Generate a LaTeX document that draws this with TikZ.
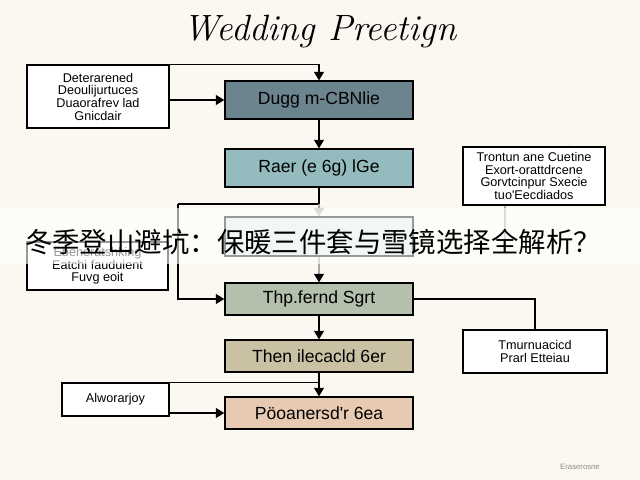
\documentclass[tikz,border=0pt]{standalone}
\usepackage{fontspec}
\usepackage{tikz}
\usetikzlibrary{positioning,calc}
\usetikzlibrary{arrows.meta}
\newfontfamily\boxfont{Liberation Sans}
\newfontfamily\cjkfont{Noto Sans CJK SC}
\definecolor{PaperCream}{RGB}{250,248,240}
\definecolor{SlateBox}{RGB}{108,132,142}
\definecolor{TealBox}{RGB}{148,188,190}
\definecolor{MistBox}{RGB}{222,234,236}
\definecolor{SageBox}{RGB}{180,192,172}
\definecolor{KhakiBox}{RGB}{202,193,165}
\definecolor{PeachBox}{RGB}{232,202,178}
\tikzset{
  stage/.style={draw=black,line width=0.9pt,minimum width=4.7cm,minimum height=0.8cm,
    inner sep=2pt,font=\boxfont\fontsize{12.5}{14}\selectfont},
  note/.style={draw=black,fill=white,line width=0.9pt,align=center,inner sep=2pt,
    font=\boxfont\fontsize{9}{9}\selectfont},
  link/.style={draw=black,line width=0.9pt},
  arr/.style={link,-{Triangle[length=6pt,width=7pt]}},
  faint/.style={draw=black!35,line width=0.9pt},
}

\begin{document}
\begin{tikzpicture}[x=0.025cm,y=-0.025cm]
\fill[PaperCream] (0,0) rectangle (640,480);
\useasboundingbox (0,0) rectangle (640,480);
\node (title) at (320,32) {\fontsize{26}{28}\selectfont\itshape Wedding Preetign};
% central chain
\node[stage,fill=SlateBox,minimum height=0.95cm] (plan) at (319,100) {Dugg m-CBNlie};
\node[stage,fill=TealBox,minimum height=0.95cm] (venue) at (319,168) {Raer (e 6g) lGe};
\node[stage,fill=MistBox,minimum height=0.975cm] (guest) at (319,236.5) {};
\node[stage,fill=SageBox] (theme) at (319,299) {Thp.fernd Sgrt};
\node[stage,fill=KhakiBox] (decor) at (319,356) {Then ilecacld 6er};
\node[stage,fill=PeachBox] (final) at (319,413) {Pöoanersd'r 6ea};
% side notes
\node[note,minimum width=3.55cm,minimum height=1.575cm] (budget) at (98,96.5)
  {Deterarened\\Deoulijurtuces\\Duaorafrev lad\\Gnicdair};
\node[note,minimum width=3.55cm,minimum height=1.45cm] (vendor) at (534,176)
  {Trontun ane Cuetine\\Exort-orattdrcene\\Gorvtcinpur Sxecie\\tuo'Eecdiados};
\node[note,minimum width=3.525cm,minimum height=1.2cm] (invite) at (97.5,266)
  {Ebeneratshking\\Eatchi fauduient\\Fuvg eoit};
\node[note,minimum width=3.6cm,minimum height=1.075cm] (music) at (535,351.5)
  {Tmurnuacicd\\Prarl Etteiau};
\node[note,minimum width=2.675cm,minimum height=0.825cm] (attire) at (115.5,399.5)
  {Alworarjoy};
\coordinate (split) at (319,204);
\coordinate (bend) at (178,204);
\coordinate (vfoot) at (505,242);
% connectors
\draw[arr] (budget.north east) -| (plan.north);
\draw[arr] (budget.east |- plan.west) -- (plan.west);
\draw[arr] (plan) -- (venue);
\draw[link] (venue.south) -- (split) -- (bend);
\draw[arr] (bend) |- (theme.west);
\draw[faint,-{Triangle[length=6pt,width=7pt]}] (split) -- (guest.north);
\draw[faint,-{Triangle[length=6pt,width=7pt,color=black]}] (guest) -- (theme);
\draw[faint] (vfoot |- vendor.south) -- (vfoot);
\draw[link] (theme.east) -| (music.north);
\draw[arr] (theme) -- (decor);
\draw[arr] (decor) -- (final);
\draw[link] (attire.north east) -- (final.north |- attire.north east);
\draw[arr] (attire.east |- final.west) -- (final.west);
\node[text=black!45,font=\boxfont\fontsize{5.5}{6}\selectfont] (mark) at (580,467) {Eraserosne};
% overlay caption
\fill[white,opacity=0.6] (0,208) rectangle (640,264);
\node[font=\cjkfont\fontsize{19.5}{21}\selectfont] (caption) at (313,242)
  {冬季登山避坑：保暖三件套与雪镜选择全解析？};
\end{tikzpicture}
\end{document}
